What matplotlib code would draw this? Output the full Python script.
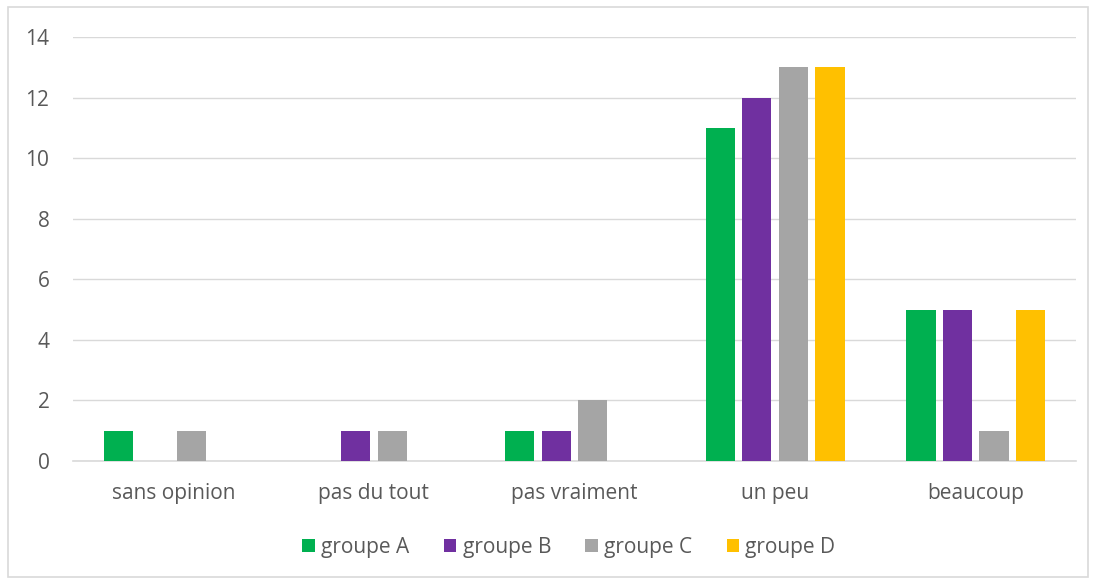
import numpy as np
import matplotlib.pyplot as plt
from matplotlib.patches import Rectangle

plt.rcParams["font.family"] = ["Open Sans", "DejaVu Sans"]

categories = ["sans opinion", "pas du tout", "pas vraiment", "un peu", "beaucoup"]
groups = ["groupe A", "groupe B", "groupe C", "groupe D"]
groupe_a = [1, 0, 1, 11, 5]
groupe_b = [0, 1, 1, 12, 5]
groupe_c = [1, 1, 2, 13, 1]
groupe_d = [0, 0, 0, 13, 5]
colors = ["#00B050", "#7030A0", "#A5A5A5", "#FFC000"]

TEXT = "#595959"
GRID = "#D9D9D9"

fig = plt.figure(figsize=(10.97, 5.81), dpi=100)
ax = fig.add_axes([73 / 1097, 1 - 461 / 581, 1003 / 1097, 424 / 581])

# light frame around the whole chart
fig.patches.append(Rectangle((8 / 1097, 4 / 581), 1080 / 1097, 570 / 581,
                             transform=fig.transFigure, fill=False,
                             edgecolor=GRID, linewidth=1.2))

x = np.arange(len(categories))
step = 0.182
width = 0.146
series = [groupe_a, groupe_b, groupe_c, groupe_d]
for i, (vals, name, c) in enumerate(zip(series, groups, colors)):
    ax.bar(x + (i - 1.5) * step, vals, width, color=c, label=name, zorder=3)

ax.set_xlim(-0.5, len(categories) - 0.5)
ax.set_ylim(0, 14)
ax.set_yticks(range(0, 15, 2))
ax.set_xticks(x)
ax.set_xticklabels(categories)
ax.yaxis.grid(True, color=GRID, linewidth=1)
ax.set_axisbelow(True)
for s in ["top", "right", "left"]:
    ax.spines[s].set_visible(False)
ax.spines["bottom"].set_color(GRID)
ax.spines["bottom"].set_linewidth(1.2)
ax.tick_params(axis="both", length=0, colors=TEXT, labelsize=15)
ax.tick_params(axis="y", pad=17)
ax.tick_params(axis="x", pad=16)

leg = ax.legend(loc="center", bbox_to_anchor=(569 / 1097, 1 - 547 / 581),
                bbox_transform=fig.transFigure, ncol=4, frameon=False,
                fontsize=15, handlelength=0.6, handleheight=0.6,
                handletextpad=0.3, columnspacing=1.65)
for t in leg.get_texts():
    t.set_color(TEXT)

fig.savefig("out.png", dpi=100)
